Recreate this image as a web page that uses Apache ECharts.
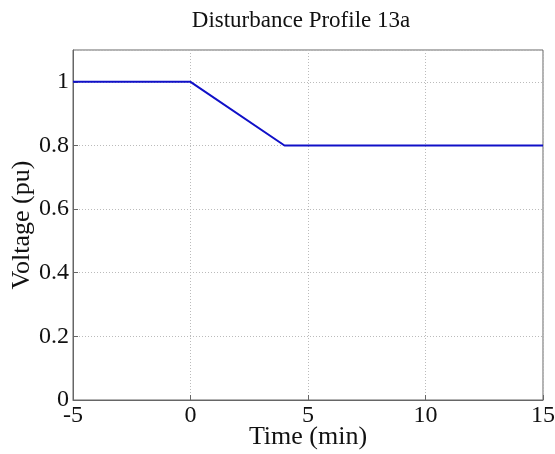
<!DOCTYPE html>
<html><head><meta charset="utf-8">
<script src="https://cdn.jsdelivr.net/npm/echarts@6/dist/echarts.min.js"></script>
<style>html,body{margin:0;padding:0;background:#fff}#c{width:555px;height:454px}</style>
</head><body><div id="c"></div>
<script>
var timeMin = [-5, 0, 4, 15];
var voltagePu = [1, 1, 0.8, 0.8];
var xTicks = [-5, 0, 5, 10, 15];
var yTicks = [0, 0.2, 0.4, 0.6, 0.8, 1];

var font = '"Liberation Serif", "Times New Roman", serif';
var chart = echarts.init(document.getElementById('c'), null, {renderer: 'canvas'});
var data = timeMin.map(function (t, i) { return [t, voltagePu[i]]; });
chart.setOption({
  animation: false,
  backgroundColor: '#fff',
  title: {
    text: 'Disturbance Profile 13a', left: 296, top: 4, textAlign: 'center',
    textStyle: {fontFamily: font, fontSize: 23, fontWeight: 'normal', color: '#111'}
  },
  grid: {left: 73, right: 12, top: 50, bottom: 54, containLabel: false, outerBoundsMode: 'none',
    show: true, borderColor: '#666', borderWidth: 1},
  xAxis: {
    type: 'value', min: -5, max: 15, interval: 5,
    name: 'Time (min)', nameLocation: 'middle', nameGap: 24, nameMoveOverlap: false,
    nameTextStyle: {fontFamily: font, fontSize: 26, color: '#111'},
    axisLine: {show: true, onZero: false, lineStyle: {color: '#666'}},
    axisTick: {show: true, inside: true, length: 5, lineStyle: {color: '#666'}},
    axisLabel: {fontFamily: font, fontSize: 24, color: '#111', margin: 4,
      formatter: function (v) { return xTicks.indexOf(v) >= 0 ? String(v) : ''; }},
    splitLine: {show: true, lineStyle: {color: '#bbb', type: [1, 2], width: 1}}
  },
  yAxis: {
    type: 'value', min: 0, max: 1.1, interval: 0.2,
    name: 'Voltage (pu)', nameLocation: 'middle', nameGap: 38, nameMoveOverlap: false,
    nameTextStyle: {fontFamily: font, fontSize: 26, color: '#111'},
    axisLine: {show: true, onZero: false, lineStyle: {color: '#666'}},
    axisTick: {show: true, inside: true, length: 5, lineStyle: {color: '#666'}},
    axisLabel: {fontFamily: font, fontSize: 24, color: '#111', margin: 4, showMaxLabel: false,
      formatter: function (v) { var r = Math.round(v * 10) / 10; return yTicks.indexOf(r) >= 0 ? String(r) : ''; }},
    splitLine: {show: true, lineStyle: {color: '#bbb', type: [1, 2], width: 1}}
  },
  series: [{
    type: 'line', data: data, symbol: 'none',
    lineStyle: {color: '#1010c8', width: 2}
  }]
});
</script></body></html>
